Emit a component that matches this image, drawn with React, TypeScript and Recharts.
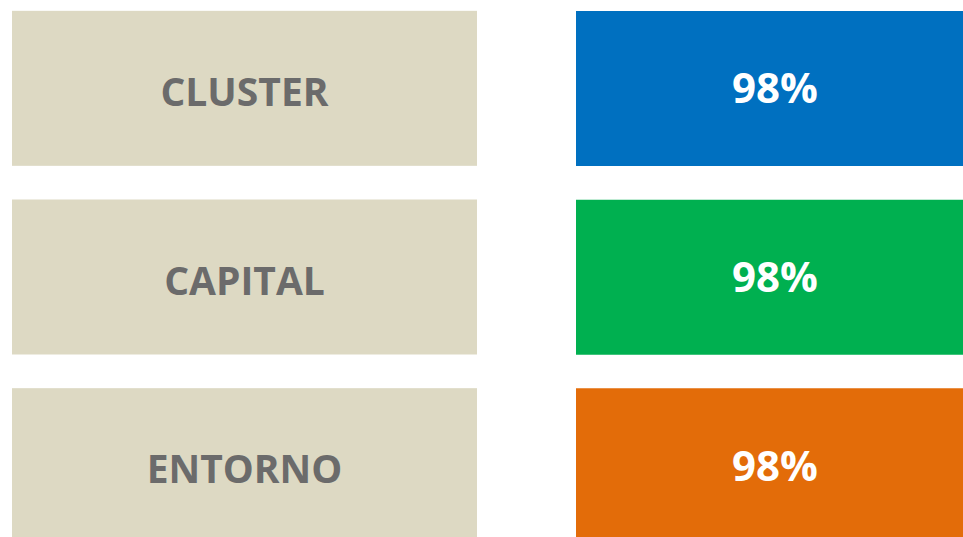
import { BarChart, Bar, XAxis, YAxis, Cell, LabelList } from 'recharts';

const categories = ['CLUSTER', 'CAPITAL', 'ENTORNO'];
const values = [98, 98, 98];

const tileColors = ['#0070C0', '#00B050', '#E36C09'];

const data = categories.map((name, i) => ({
    name,
    value: values[i],
}));

const FONT = '"Open Sans", "Noto Sans", sans-serif';
const BOX_H = 155;

// left beige tile drawn as the category tick
const CategoryTile = (props: any) => {
    const { y, payload } = props;
    return (
        <g>
            <rect x={12} y={y - BOX_H / 2} width={465} height={BOX_H} fill="#DDD9C3" />
            <text
                x={244.5}
                y={y + 2}
                textAnchor="middle"
                dominantBaseline="central"
                fill="#6B6B6B"
                fontFamily={FONT}
                fontWeight={700}
                fontSize={39}
            >
                {payload.value}
            </text>
        </g>
    );
};

const App = () => {
    return (
        <div style={{ position: 'absolute', left: 0, top: 0, width: 963, height: 537, overflow: 'hidden', background: '#fff' }}>
            <div style={{ position: 'relative', top: -6 }}>
                <BarChart
                    layout="vertical"
                    width={974}
                    height={566}
                    data={data}
                    margin={{ top: 0, right: 0, bottom: 0, left: 0 }}
                    barSize={BOX_H}
                >
                    <XAxis type="number" hide domain={[0, 'dataMax']} />
                    <YAxis
                        type="category"
                        dataKey="name"
                        width={576}
                        axisLine={false}
                        tickLine={false}
                        tick={<CategoryTile />}
                    />
                    <Bar dataKey="value" isAnimationActive={false}>
                        {data.map((d, i) => (
                            <Cell key={d.name} fill={tileColors[i]} />
                        ))}
                        <LabelList
                            dataKey="value"
                            position="center"
                            formatter={(v: any) => `${v}%`}
                            fill="#FFFFFF"
                            fontFamily={FONT}
                            fontWeight={700}
                            fontSize={42}
                        />
                    </Bar>
                </BarChart>
            </div>
        </div>
    );
};

export default App;
